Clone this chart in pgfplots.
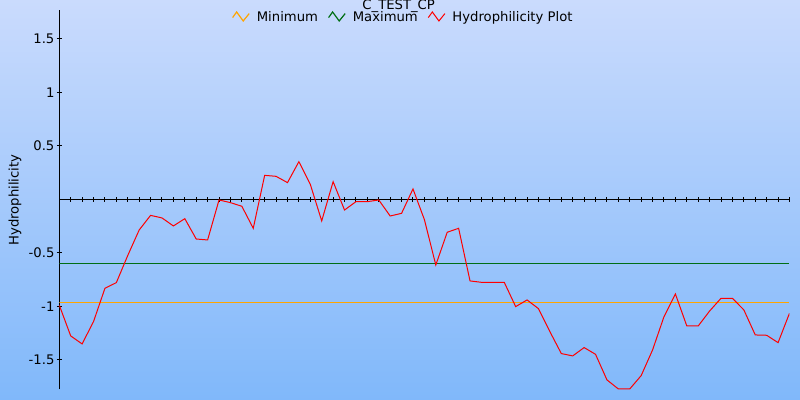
\documentclass[border=0pt]{standalone}
\usepackage{fontspec}
\setmainfont{DejaVu Sans}
\usepackage{pgfplots}
\pgfplotsset{compat=1.18}

\definecolor{bgtop}{RGB}{202,219,253}
\definecolor{bgbot}{RGB}{128,184,250}
\definecolor{minline}{RGB}{255,165,0}
\definecolor{maxline}{RGB}{0,110,20}

\pgfplotstableread{
x y
0 -0.99
1 -1.277
2 -1.352
3 -1.143
4 -0.832
5 -0.779
6 -0.525
7 -0.287
8 -0.150
9 -0.174
10 -0.249
11 -0.181
12 -0.371
13 -0.380
14 -0.006
15 -0.031
16 -0.065
17 -0.271
18 0.224
19 0.215
20 0.156
21 0.352
22 0.140
23 -0.202
24 0.165
25 -0.100
26 -0.022
27 -0.022
28 -0.006
29 -0.156
30 -0.131
31 0.097
32 -0.19
33 -0.614
34 -0.308
35 -0.271
36 -0.763
37 -0.776
38 -0.776
39 -0.776
40 -1.003
41 -0.941
42 -1.022
43 -1.237
44 -1.442
45 -1.464
46 -1.386
47 -1.449
48 -1.688
49 -1.773
50 -1.773
51 -1.648
52 -1.408
53 -1.097
54 -0.885
55 -1.184
56 -1.184
57 -1.044
58 -0.925
59 -0.925
60 -1.034
61 -1.268
62 -1.271
63 -1.340
64 -1.065
}\hydro

\begin{document}
\begin{tikzpicture}
\fontsize{6.6}{7.8}\selectfont
\shade[top color=bgtop, bottom color=bgbot] (-29.65pt,-5.35pt) rectangle (370.35pt,194.65pt);
\useasboundingbox (-29.65pt,-5.35pt) rectangle (370.35pt,194.65pt);
\begin{axis}[
  at={(0pt,0pt)}, anchor=south west,
  scale only axis, width=365.1pt, height=189.65pt,
  xmin=0, xmax=64, ymin=-1.776, ymax=1.77,
  axis y line=left, axis x line=middle,
  axis line style={-, line width=0.5pt, black},
  xtick={1,...,64}, xticklabels={},
  ytick={-1.5,-1,-0.5,0.5,1,1.5},
  tick align=center, major tick length=2.5pt,
  tick style={black, line width=0.5pt},
  /pgf/number format/assume math mode=true,
  yticklabel style={font=\fontsize{6.6}{7.8}\selectfont, inner sep=0pt, xshift=-1pt},
  ylabel={Hydrophilicity},
  ylabel style={at={(axis description cs:-0.0607,0.499)}, anchor=center, font=\fontsize{6.6}{7.8}\selectfont},
  every axis title shift=0pt,
  title={C\_TEST\_CP},
  title style={at={(axis description cs:0.4648,1.0013)}, anchor=base, inner sep=0pt, font=\fontsize{6.6}{7.8}\selectfont},
  legend style={draw=none, fill=none, inner sep=0pt,
    at={(axis description cs:0.236,0.98)}, anchor=west,
    font=\fontsize{6.6}{7.8}\selectfont,
    /tikz/every even column/.append style={column sep=3pt}},
  legend columns=-1,
  legend image code/.code={\draw[#1] (0pt,0pt) -- (2pt,2.8pt) -- (5.3pt,-1.7pt) -- (8.3pt,2pt); \path (9.8pt,0pt);},
]
\addplot[minline, line width=0.6pt] coordinates {(0,-0.963) (64,-0.963)};
\addlegendentry{Minimum}
\addplot[maxline, line width=0.6pt] coordinates {(0,-0.598) (64,-0.598)};
\addlegendentry{Maximum}
\addplot[red, line width=0.5pt] table[x=x, y=y] {\hydro};
\addlegendentry{Hydrophilicity Plot}
\end{axis}
\end{tikzpicture}
\end{document}
